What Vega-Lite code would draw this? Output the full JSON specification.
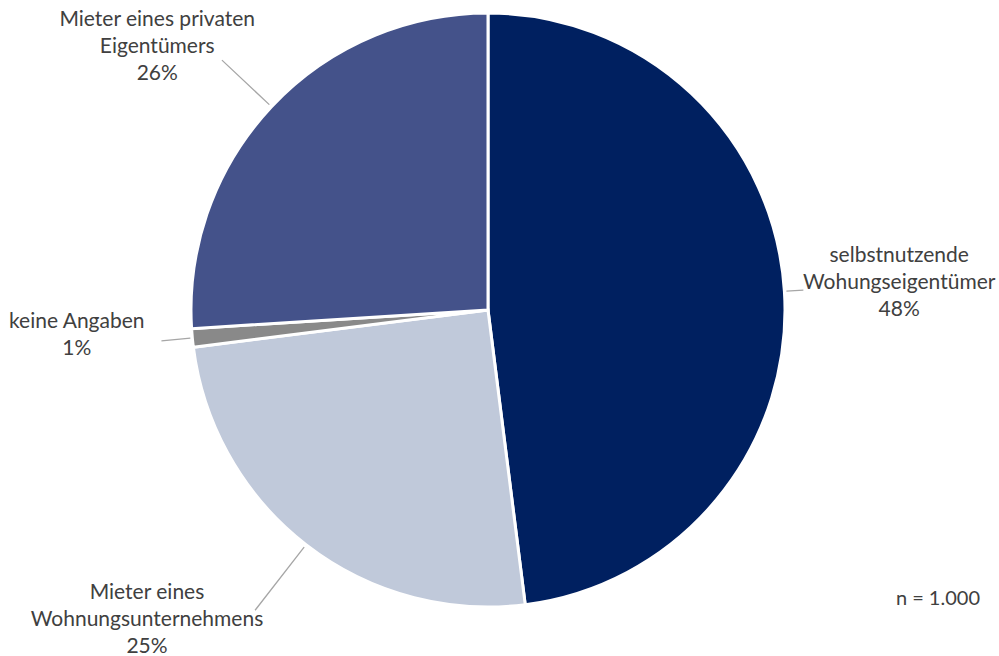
{
  "$schema": "https://vega.github.io/schema/vega-lite/v6.json",
  "width": 976,
  "height": 620,
  "autosize": {"type": "none"},
  "padding": {"left": 0, "top": 0, "right": 23, "bottom": 36},
  "background": "white",
  "config": {"view": {"stroke": null}},
  "title": {
    "text": "n = 1.000",
    "orient": "bottom",
    "anchor": "end",
    "frame": "group",
    "offset": -52,
    "baseline": "alphabetic",
    "dx": 4,
    "font": "Lato",
    "fontSize": 20,
    "fontWeight": "normal",
    "color": "#404040"
  },
  "data": {
    "values": [
      {"order": 1, "category": "selbstnutzende Wohungseigentümer", "label": "selbstnutzende\nWohungseigentümer\n48%", "value": 48},
      {"order": 2, "category": "Mieter eines Wohnungsunternehmens", "label": "Mieter eines\nWohnungsunternehmens\n25%", "value": 25},
      {"order": 3, "category": "keine Angaben", "label": "keine Angaben\n1%", "value": 1},
      {"order": 4, "category": "Mieter eines privaten Eigentümers", "label": "Mieter eines privaten\nEigentümers\n26%", "value": 26}
    ]
  },
  "transform": [
    {"window": [{"op": "sum", "field": "value", "as": "cum"}], "sort": [{"field": "order"}], "frame": [null, 0]},
    {"calculate": "datum.cum - datum.value", "as": "start"},
    {"calculate": "datum.cum - datum.value / 2", "as": "mid"}
  ],
  "layer": [
    {
      "mark": {"type": "arc", "outerRadius": 297, "stroke": "white", "strokeWidth": 3},
      "encoding": {
        "theta": {"field": "start", "type": "quantitative", "stack": null, "scale": {"domain": [0, 100]}},
        "theta2": {"field": "cum"},
        "color": {
          "field": "category",
          "type": "nominal",
          "scale": {
            "domain": ["selbstnutzende Wohungseigentümer", "Mieter eines Wohnungsunternehmens", "keine Angaben", "Mieter eines privaten Eigentümers"],
            "range": ["#002060", "#C0C9DA", "#898989", "#44528A"]
          },
          "legend": null
        }
      }
    },
    {
      "transform": [{"filter": "datum.order === 1"}],
      "layer": [
        {
          "mark": {"type": "arc", "innerRadius": 299, "outerRadius": 316, "stroke": "#A6A6A6", "strokeWidth": 1.3, "fillOpacity": 0},
          "encoding": {"theta": {"field": "mid", "type": "quantitative", "stack": null}, "theta2": {"field": "mid"}}
        },
        {
          "mark": {"type": "text", "radius": 403, "dx": 9, "dy": -29, "align": "center", "baseline": "middle", "lineBreak": "\n", "font": "Lato", "fontSize": 21, "lineHeight": 27, "color": "#404040"},
          "encoding": {"theta": {"field": "mid", "type": "quantitative", "stack": null}, "text": {"field": "label"}}
        }
      ]
    },
    {
      "transform": [{"filter": "datum.order === 2"}],
      "layer": [
        {
          "mark": {"type": "arc", "innerRadius": 300, "outerRadius": 380, "stroke": "#A6A6A6", "strokeWidth": 1.3, "fillOpacity": 0},
          "encoding": {"theta": {"field": "mid", "type": "quantitative", "stack": null}, "theta2": {"field": "mid"}}
        },
        {
          "mark": {"type": "text", "radius": 403, "dx": -94, "dy": -35, "align": "center", "baseline": "middle", "lineBreak": "\n", "font": "Lato", "fontSize": 21, "lineHeight": 27, "color": "#404040"},
          "encoding": {"theta": {"field": "mid", "type": "quantitative", "stack": null}, "text": {"field": "label"}}
        }
      ]
    },
    {
      "transform": [{"filter": "datum.order === 3"}],
      "layer": [
        {
          "mark": {"type": "arc", "innerRadius": 299, "outerRadius": 328, "stroke": "#A6A6A6", "strokeWidth": 1.3, "fillOpacity": 0},
          "encoding": {"theta": {"field": "mid", "type": "quantitative", "stack": null}, "theta2": {"field": "mid"}}
        },
        {
          "mark": {"type": "text", "radius": 403, "dx": -10, "dy": -26, "align": "center", "baseline": "middle", "lineBreak": "\n", "font": "Lato", "fontSize": 21, "lineHeight": 27, "color": "#404040"},
          "encoding": {"theta": {"field": "mid", "type": "quantitative", "stack": null}, "text": {"field": "label"}}
        }
      ]
    },
    {
      "transform": [{"filter": "datum.order === 4"}],
      "layer": [
        {
          "mark": {"type": "arc", "innerRadius": 300, "outerRadius": 365, "stroke": "#A6A6A6", "strokeWidth": 1.3, "fillOpacity": 0},
          "encoding": {"theta": {"field": "mid", "type": "quantitative", "stack": null}, "theta2": {"field": "mid"}}
        },
        {
          "mark": {"type": "text", "radius": 403, "dx": -37, "dy": -14, "align": "center", "baseline": "middle", "lineBreak": "\n", "font": "Lato", "fontSize": 21, "lineHeight": 27, "color": "#404040"},
          "encoding": {"theta": {"field": "mid", "type": "quantitative", "stack": null}, "text": {"field": "label"}}
        }
      ]
    }
  ]
}
